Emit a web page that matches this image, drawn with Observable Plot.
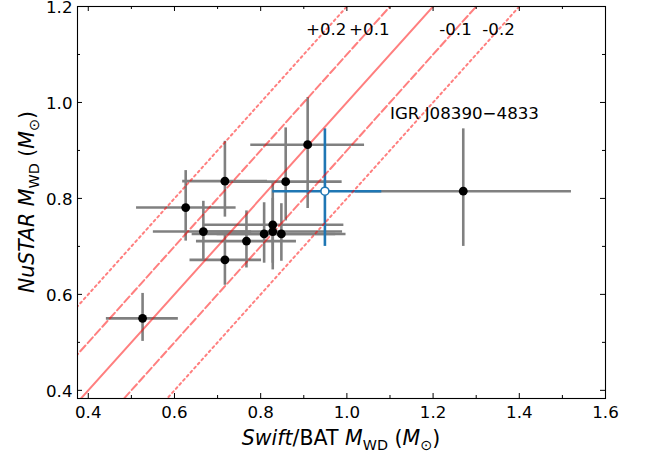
<!DOCTYPE html>
<html>
<head>
<meta charset="utf-8">
<script src="https://cdn.jsdelivr.net/npm/d3@7"></script>
<script src="https://cdn.jsdelivr.net/npm/@observablehq/plot@0.6"></script>
<style>
  html, body { margin: 0; padding: 0; background: #fff; }
  svg { display: block; }
</style>
</head>
<body>
<div id="chart"></div>
<script>
// ---- data ----
const swiftM   = [0.526, 0.626, 0.717, 0.858, 0.909, 1.270, 0.667, 0.717, 0.767, 0.808, 0.828, 0.828, 0.848];
const swiftLo  = [0.442, 0.512, 0.619, 0.727, 0.777, 1.020, 0.551, 0.636, 0.651, 0.641, 0.667, 0.665, 0.699];
const swiftHi  = [0.609, 0.743, 0.816, 0.989, 1.041, 1.521, 0.779, 0.802, 0.883, 0.974, 0.993, 0.990, 0.998];
const nustarM  = [0.550, 0.781, 0.836, 0.835, 0.912, 0.815, 0.731, 0.672, 0.711, 0.726, 0.745, 0.731, 0.726];
const nustarLo = [0.502, 0.711, 0.761, 0.753, 0.779, 0.700, 0.672, 0.619, 0.655, 0.665, 0.651, 0.665, 0.669];
const nustarHi = [0.602, 0.858, 0.919, 0.947, 1.010, 0.945, 0.794, 0.727, 0.774, 0.791, 0.831, 0.800, 0.789];

// highlighted source
const hlName     = "IGR J08390\u22124833";
const hlSwift    = [0.949, 0.828, 1.081];   // value, low, high
const hlNustar   = [0.815, 0.700, 0.945];
const hlLabelPos = [1.1, 0.976];

// reference lines y = x + offset
const offsets      = [0, 0.1, -0.1, 0.2, -0.2];
const offsetLabels = ["", "+0.1", "-0.1", "+0.2", "-0.2"];
const offsetLabelY = 1.152;

// axes
const xDomain = [0.375, 1.6];
const yDomain = [0.383, 1.2];
const xMajor = [0.4, 0.6, 0.8, 1.0, 1.2, 1.4, 1.6];
const xMajorLabels = ["0.4", "0.6", "0.8", "1.0", "1.2", "1.4", "1.6"];
const xMinor = [0.5, 0.7, 0.9, 1.1, 1.3, 1.5];
const yMajor = [0.4, 0.6, 0.8, 1.0, 1.2];
const yMajorLabels = ["0.4", "0.6", "0.8", "1.0", "1.2"];
const yMinor = [0.5, 0.7, 0.9, 1.1];

// ---- derived tables ----
const rows = swiftM.map((d, i) => ({
  sx: d, sxLo: swiftLo[i], sxHi: swiftHi[i],
  ny: nustarM[i], nyLo: nustarLo[i], nyHi: nustarHi[i]
}));
const hl = [{sx: hlSwift[0], sxLo: hlSwift[1], sxHi: hlSwift[2],
             ny: hlNustar[0], nyLo: hlNustar[1], nyHi: hlNustar[2]}];

const lineStyle = o => Math.abs(o) < 1e-9 ? null : (Math.abs(o) < 0.15 ? "7.7,3.3" : "2.1,3.4");
const refLines = offsets.flatMap(o => [-1, 3].map(x => ({x, y: x + o, o})));
const refLabels = offsets.map((o, i) => ({t: offsetLabels[i], x: offsetLabelY - o, y: offsetLabelY})).filter(d => d.t);

const grey = "#808080";
const blue = "#1f77b4";

const W = 648, H = 454;
const mL = 77, mR = 43, mT = 6, mB = 56;
const fw = W - mL - mR, fh = H - mT - mB;
const majLen = 5, minLen = 3;

const lineMarks = offsets.map(o => Plot.line(refLines.filter(d => d.o === o), {
  x: "x", y: "y", stroke: "red", strokeOpacity: 0.5, strokeWidth: 2,
  strokeDasharray: lineStyle(o), clip: true
}));

// inward ticks on all four sides
const tickMarks = [];
[[xMajor, majLen], [xMinor, minLen]].forEach(([vals, len]) => {
  tickMarks.push(Plot.ruleX(vals, {x: d => d, insetTop: fh - len, stroke: "black", strokeWidth: 1}));
  tickMarks.push(Plot.ruleX(vals, {x: d => d, insetBottom: fh - len, stroke: "black", strokeWidth: 1}));
});
[[yMajor, majLen], [yMinor, minLen]].forEach(([vals, len]) => {
  tickMarks.push(Plot.ruleY(vals, {y: d => d, insetRight: fw - len, stroke: "black", strokeWidth: 1}));
  tickMarks.push(Plot.ruleY(vals, {y: d => d, insetLeft: fw - len, stroke: "black", strokeWidth: 1}));
});

const plot = Plot.plot({
  width: W, height: H,
  marginLeft: mL, marginRight: mR, marginTop: mT, marginBottom: mB,
  style: {fontFamily: "DejaVu Sans", fontSize: "16.67px", background: "white", color: "black"},
  x: {domain: xDomain, label: null},
  y: {domain: yDomain, label: null},
  marks: [
    // error bars
    Plot.ruleY(rows, {y: "ny", x1: "sxLo", x2: "sxHi", stroke: grey, strokeWidth: 2.6}),
    Plot.ruleX(rows, {x: "sx", y1: "nyLo", y2: "nyHi", stroke: grey, strokeWidth: 2.6}),
    Plot.ruleY(hl, {y: "ny", x1: "sxLo", x2: "sxHi", stroke: blue, strokeWidth: 2.6}),
    Plot.ruleX(hl, {x: "sx", y1: "nyLo", y2: "nyHi", stroke: blue, strokeWidth: 2.6}),
    // reference lines
    ...lineMarks,
    // points
    Plot.dot(rows, {x: "sx", y: "ny", r: 4.4, fill: "black", stroke: "none"}),
    Plot.dot(hl, {x: "sx", y: "ny", r: 4, fill: "white", stroke: blue, strokeWidth: 1.6}),
    // annotations
    Plot.text(refLabels, {x: "x", y: "y", text: "t", textAnchor: "middle", lineAnchor: "middle", fill: "black"}),
    Plot.text([hlName], {x: () => hlLabelPos[0], y: () => hlLabelPos[1], text: d => d, textAnchor: "start", lineAnchor: "middle", fill: "black"}),
    ...tickMarks,
    // tick labels
    Plot.axisX(xMajor, {anchor: "bottom", tickSize: 0, tickPadding: 8, label: null,
      tickFormat: v => xMajorLabels[xMajor.indexOf(v)]}),
    Plot.axisY(yMajor, {anchor: "left", tickSize: 0, tickPadding: 5, label: null, dy: 1,
      tickFormat: v => yMajorLabels[yMajor.indexOf(v)]}),
    Plot.frame({stroke: "black", strokeWidth: 1.1})
  ]
});

document.getElementById("chart").appendChild(plot);

// ---- axis titles with italics and subscripts ----
const svg = d3.select(plot);
const fs = 20.5, subFs = fs * 0.7, subDy = fs * 0.22;
function addParts(text, parts) {
  let inSub = false;
  parts.forEach(p => {
    const ts = text.append("tspan").text(p.t);
    if (p.i) ts.attr("font-style", "italic");
    if (p.sub && !inSub) { ts.attr("font-size", subFs).attr("dy", subDy); inSub = true; }
    else if (p.sub) { ts.attr("font-size", subFs); }
    else if (!p.sub && inSub) { ts.attr("dy", -subDy); inSub = false; }
  });
}
const xr = plot.scale("x").range, yr = plot.scale("y").range;
const xt = svg.append("text")
  .attr("x", (xr[0] + xr[1]) / 2).attr("y", 445)
  .attr("text-anchor", "middle").attr("font-size", fs).attr("fill", "black")
  .attr("font-family", "DejaVu Sans");
addParts(xt, [
  {t: "Swift", i: true}, {t: "/BAT "}, {t: "M", i: true}, {t: "WD", sub: true},
  {t: " ("}, {t: "M", i: true}, {t: "\u2299", sub: true}, {t: ")"}
]);
const yt = svg.append("text")
  .attr("transform", `translate(34,${(yr[0] + yr[1]) / 2}) rotate(-90)`)
  .attr("text-anchor", "middle").attr("font-size", fs).attr("fill", "black")
  .attr("font-family", "DejaVu Sans");
addParts(yt, [
  {t: "NuSTAR", i: true}, {t: " "}, {t: "M", i: true}, {t: "WD", sub: true},
  {t: " ("}, {t: "M", i: true}, {t: "\u2299", sub: true}, {t: ")"}
]);
</script>
</body>
</html>
